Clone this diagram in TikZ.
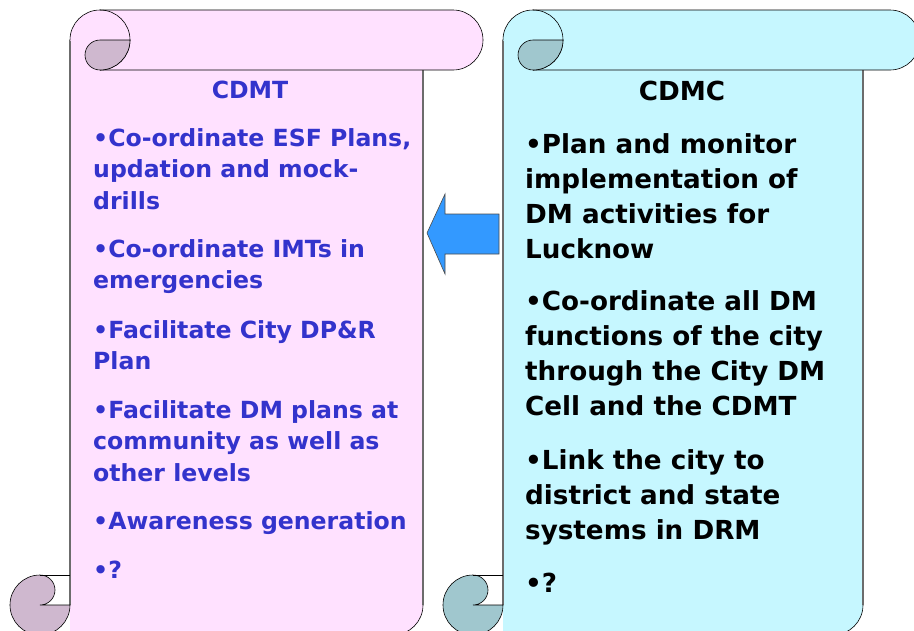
\documentclass[tikz,border=0pt]{standalone}
\usepackage{fontspec}
\setmainfont{DejaVu Sans}
\usepackage{tikz}
\usetikzlibrary{positioning}
\definecolor{pinkpage}{HTML}{FFE1FF}
\definecolor{pinkcurl}{HTML}{CFB8CF}
\definecolor{cyanpage}{HTML}{C6F7FF}
\definecolor{cyancurl}{HTML}{A0C7CE}
\definecolor{arrowblue}{HTML}{3399FF}
\definecolor{cdmtblue}{HTML}{3333CC}
\tikzset{
  pageedge/.style={draw=gray!85!black, line width=1.2pt},
  rim/.style={draw=black, line width=0.6pt},
  lefttext/.style={anchor=base west, align=left, inner sep=0pt, text=cdmtblue,
    font=\fontsize{23.6}{31.5}\selectfont\bfseries},
  righttext/.style={anchor=base west, align=left, inner sep=0pt, text=black,
    font=\fontsize{26.2}{35}\selectfont\bfseries}
}

\begin{document}
\begin{tikzpicture}[x=1pt, y=1pt]
        \useasboundingbox (0,0) rectangle (914,-630);
        \clip (0,0) rectangle (914,-630);
        % two scrolls
        \foreach \xa/\xb/\xc/\pg/\sh in {70/423/483/pinkpage/pinkcurl, 503/863/920/cyanpage/cyancurl} {
          \fill[\pg] (\xa,-40) -- (\xa,-635) -- (\xb-30,-635) arc (270:360:30) -- (\xb,-40) -- cycle;
          \draw[pageedge] (\xa,-40) -- (\xa,-605);
          \draw[pageedge] (\xb,-70) -- (\xb,-605);
          \draw[rim] (\xb,-605) arc (0:-90:30);
          \filldraw[rim, fill=\pg] (\xa,-40) arc (180:90:30) -- (\xc-30,-10) arc (90:-90:30) -- (\xa+30,-70);
          \draw[rim] (\xa+30,-10) arc (90:-90:30);
          \filldraw[rim, fill=\sh] (\xa+60,-40) -- (\xa+30,-40) arc (90:270:15) arc (270:360:30) -- cycle;
          \filldraw[rim, fill=\sh] (\xa-30,-575) arc (90:360:30) -- (\xa-30,-605) arc (270:450:15) -- cycle;
          \draw[rim] (\xa-30,-575) -- (\xa,-575);
        }
        % block arrow
        \filldraw[fill=arrowblue, draw=gray!60!black, line width=0.6pt] (427,-233) -- (445,-194) -- (445,-214) -- (499,-214) -- (499,-254) -- (445,-254) -- (445,-274) -- cycle;
        % CDMT (nodes sit on the baseline of their last line)
        \node[lefttext, anchor=base] (cdmt) at (250,-98) {CDMT};
        \node[lefttext] (esf) at (93,-209) {•Co-ordinate ESF Plans,\\updation and mock-\\drills};
        \node[lefttext] (imt) at (93,-288.5) {•Co-ordinate IMTs in\\emergencies};
        \node[lefttext] (dpr) at (93,-369.5) {•Facilitate City DP\&R\\Plan};
        \node[lefttext] (plans) at (93,-481) {•Facilitate DM plans at\\community as well as\\other levels};
        \node[lefttext] (aware) at (93,-529) {•Awareness generation};
        \node[lefttext] (lq) at (93,-578) {•?};
        % CDMC
        \node[righttext, anchor=base] (cdmc) at (682,-100) {CDMC};
        \node[righttext] (monitor) at (525,-258) {•Plan and monitor\\implementation of\\DM activities for\\Lucknow};
        \node[righttext] (coord) at (525,-415) {•Co-ordinate all DM\\functions of the city\\through the City DM\\Cell and the CDMT};
        \node[righttext] (link) at (525,-539) {•Link the city to\\district and state\\systems in DRM};
        \node[righttext] (rq) at (525,-592) {•?};
\end{tikzpicture}
\end{document}
